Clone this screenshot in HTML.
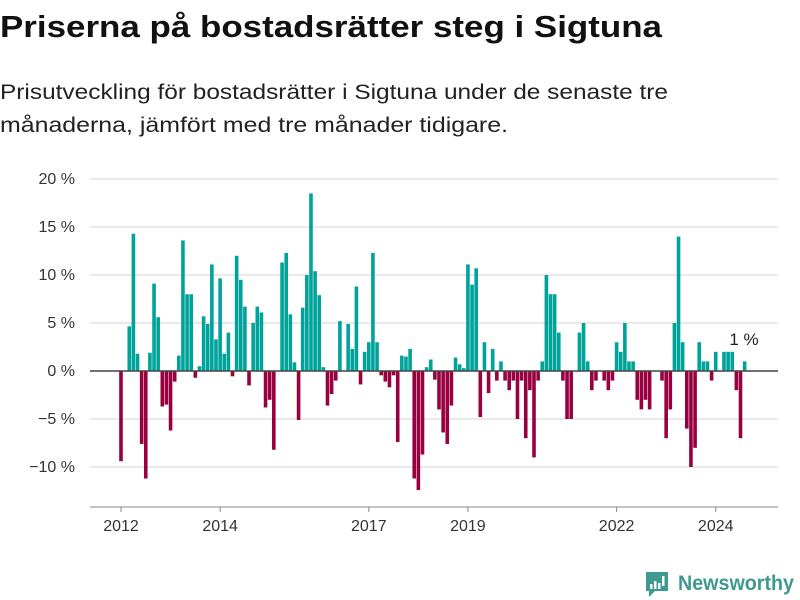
<!DOCTYPE html>
<html><head><meta charset="utf-8"><style>
html,body{margin:0;padding:0;background:#fff;}
svg{display:block;font-family:"Liberation Sans",sans-serif;}
</style></head><body>
<svg id="chart" width="800" height="600" viewBox="0 0 800 600" xmlns="http://www.w3.org/2000/svg">
<text x="0" y="37" font-size="31" font-weight="bold" fill="#111" textLength="662" lengthAdjust="spacingAndGlyphs">Priserna på bostadsrätter steg i Sigtuna</text>
<text x="0" y="99" font-size="21" fill="#222" textLength="668" lengthAdjust="spacingAndGlyphs">Prisutveckling för bostadsrätter i Sigtuna under de senaste tre</text>
<text x="0" y="132" font-size="21" fill="#222" textLength="508" lengthAdjust="spacingAndGlyphs">månaderna, jämfört med tre månader tidigare.</text>
<g id="grid"></g>
<g id="bars"></g>
<g id="axes"></g>
<text x="744" y="345" font-size="17" fill="#222" text-anchor="middle">1 %</text>
<g>
<path d="M646 572 h22 v19 h-13 l-6 6 v-6 h-3 z" fill="#3e9a90"/>
<rect x="650" y="584" width="2.5" height="5" fill="#fff"/>
<rect x="654" y="581" width="2.5" height="8" fill="#fff"/>
<rect x="658" y="583" width="2.5" height="6" fill="#fff"/>
<rect x="662" y="576" width="2.5" height="10" fill="#fff"/>
<text x="678" y="590" font-size="21" font-weight="bold" fill="#3e9a90" textLength="116" lengthAdjust="spacingAndGlyphs">Newsworthy</text>
</g>
</svg>
<script>
const values = [-9.4,0,4.65,14.3,1.8,-7.6,-11.2,1.9,9.1,5.6,-3.7,-3.5,-6.2,-1.1,1.6,13.6,8,8,-0.7,0.5,5.7,4.9,11.1,3.3,
9.65,1.8,4.0,-0.55,12.0,9.5,6.7,-1.5,5.0,6.7,6.1,-3.8,-3.0,-8.2,0,11.3,12.3,5.9,0.9,-5.1,6.6,10.0,18.5,10.4,
7.9,0.4,-3.6,-2.4,-1.0,5.2,0,4.9,2.3,8.8,-1.4,2.0,3.0,12.3,3.0,-0.45,-1.1,-1.7,-0.45,-7.4,1.6,1.5,2.3,-11.2,
-12.4,-8.7,0.4,1.2,-0.9,-4.0,-6.4,-7.6,-3.6,1.4,0.7,0.3,11.1,9.0,10.7,-4.8,3.0,-2.3,2.3,-1.0,1.0,-1.0,-2.0,-1.0,
-5.0,-1.0,-7.0,-2.0,-9.0,-1.0,1.0,10.0,8,8,4,-1,-5,-5,0,4,5,1,-2,-1,0,-1,-2,-1,
3,2,5,1,1,-3,-4,-3,-4,0,0,-1,-7,-4,5,14,3,-6,-10,-8,3,1,1,-1,2,0,2,2,2,-2,-7,1];
const startYear = 2012;
const yTicks = [20,15,10,5,0,-5,-10];
const yearTicks = [2012,2014,2017,2019,2022,2024];

const NS="http://www.w3.org/2000/svg";
const x0=121, pitch=4.13, plotL=90, plotR=778;
function xPos(i){return x0+i*pitch;}
function yPos(v){return 371-v*9.6;}
function mk(tag,attrs,parent){const e=document.createElementNS(NS,tag);for(const k in attrs)e.setAttribute(k,attrs[k]);parent.appendChild(e);return e;}
const grid=document.getElementById('grid'),bars=document.getElementById('bars'),axes=document.getElementById('axes');
yTicks.forEach(t=>{
  if(t!==0){const l=mk('line',{x1:plotL,x2:plotR,y1:yPos(t),y2:yPos(t),stroke:'#e3e3e3','stroke-width':1.5},grid);
  
  }
  const tx=mk('text',{x:75,y:yPos(t)+5,'font-size':16,fill:'#333','text-anchor':'end'},axes);
  tx.textContent=(t<0?'\u2212'+(-t):t)+' %';
  
  
});
values.forEach((v,i)=>{
  if(v===0)return;
  const y=v>0?yPos(v):yPos(0);
  const r=mk('rect',{x:xPos(i)-1.8,y:y,width:3.6,height:Math.abs(yPos(v)-yPos(0)),fill:v>0?'#00a39a':'#98003f'},bars);
  
  
});
const z=mk('line',{x1:plotL,x2:plotR,y1:yPos(0),y2:yPos(0),stroke:'#444','stroke-width':1.5},axes);


const ax=mk('line',{x1:plotL,x2:plotR,y1:507,y2:507,stroke:'#888','stroke-width':1},axes);


yearTicks.forEach(yr=>{
  const x=xPos((yr-startYear)*12);
  const tk=mk('line',{x1:x,x2:x,y1:507,y2:512,stroke:'#888','stroke-width':1},axes);
  
  
  const tx=mk('text',{x:x,y:531,'font-size':16,fill:'#333','text-anchor':'middle'},axes);
  tx.textContent=yr;
  
  
});
</script>
</body></html>
